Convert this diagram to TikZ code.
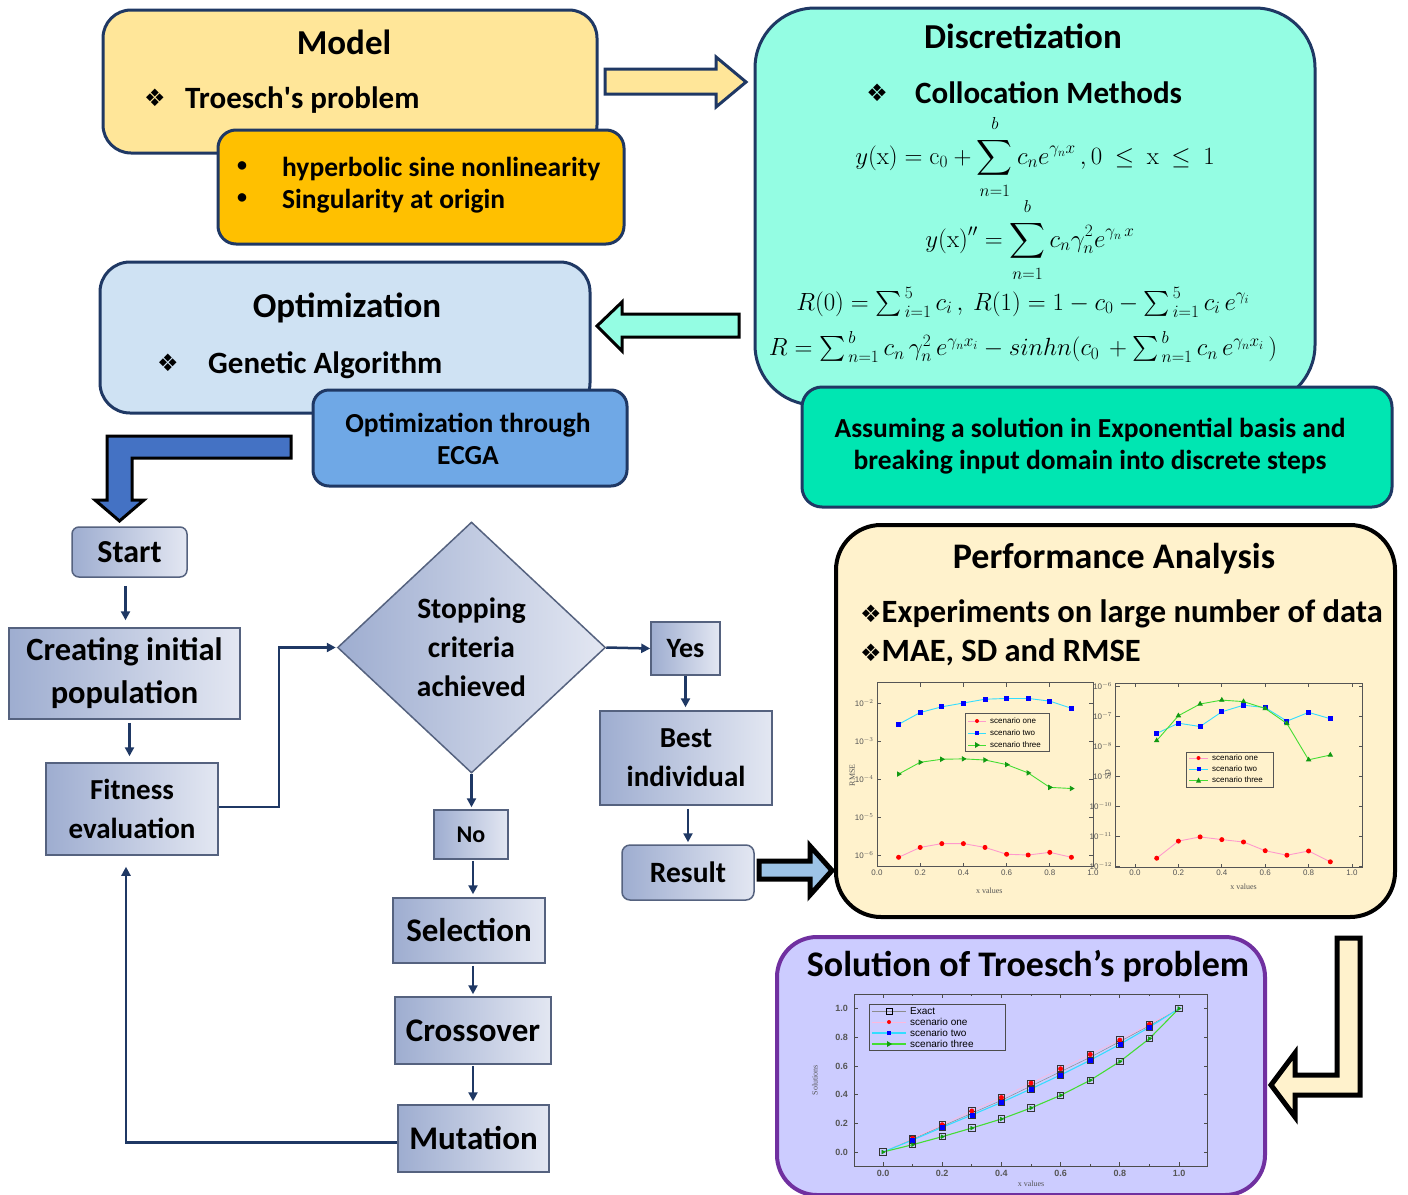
\documentclass[tikz,border=0pt]{standalone}
\usepackage{exscale}
\usepackage[no-math]{fontspec}
\setmainfont{Carlito}
\newfontfamily\dejavu{DejaVu Sans}
\newfontfamily\plotfont{Liberation Sans}
\newfontfamily\plotserif{Liberation Serif}
\usetikzlibrary{shapes.geometric,arrows.meta,calc,plotmarks}
\newcommand\myfs[2]{\fontsize{#1}{#2}\selectfont}
\newcommand\upl[1]{\raisebox{4pt}{$\scriptstyle #1$}}
\newcommand\lol[1]{\raisebox{-4pt}{$\scriptstyle #1$}}
\definecolor{navy}{HTML}{1F3864}
\definecolor{modelY}{HTML}{FFE699}
\definecolor{orangeF}{HTML}{FFC000}
\definecolor{aquaF}{HTML}{94FDE3}
\definecolor{greenF}{HTML}{00E6B2}
\definecolor{optF}{HTML}{CFE2F3}
\definecolor{ecgaF}{HTML}{6FA8E6}
\definecolor{blueArr}{HTML}{4472C4}
\definecolor{perfF}{HTML}{FFF2CC}
\definecolor{solF}{HTML}{CCCCFF}
\definecolor{purp}{HTML}{7030A0}
\definecolor{fcL}{HTML}{9EADD0}
\definecolor{fcR}{HTML}{E3E7F2}
\definecolor{fcB}{HTML}{55627F}
\definecolor{resArr}{HTML}{9DC3E6}
\definecolor{axc}{HTML}{555555}
\definecolor{pinkL}{HTML}{FF99CC}
\definecolor{cyanL}{HTML}{33DDFF}
\definecolor{greenL}{HTML}{44DD33}
\definecolor{greenM}{HTML}{119911}
\begin{document}
\begin{tikzpicture}[x=1pt,y=-1pt,
  bigbox/.style={draw=navy,line width=3pt,inner sep=0pt},
  fc/.style={draw=fcB,line width=1.5pt,left color=fcL,right color=fcR,inner sep=0pt,align=center,font=\bfseries\myfs{30}{38}},
  farr/.style={draw=navy,line width=2.5pt,-{Triangle[length=9pt,width=9pt]}},
  blk/.style={line width=3pt,line join=miter},
  ttl/.style={font=\bfseries\myfs{35}{35},anchor=base,inner sep=0pt},
  itm/.style={font=\bfseries\myfs{31}{31},anchor=base west,inner sep=0pt},
  sml/.style={font=\bfseries\myfs{27.5}{27.5},anchor=base,inner sep=0pt},
  dia/.style={font=\dejavu\myfs{24}{24},anchor=center,inner sep=0pt},
  mth/.style={font=\myfs{25}{25},inner sep=0pt},
  tick/.style={font=\plotfont\myfs{8}{8},text=axc,inner sep=1pt},
  lab/.style={font=\plotserif\myfs{8}{8},text=axc,inner sep=1pt},
  leg/.style={font=\plotfont\myfs{8}{8},text=black,inner sep=0pt,anchor=west},
  frm/.style={draw=axc,line width=0.8pt}
]
\useasboundingbox (0,0) rectangle (1408,1194);
\fill[white] (0,0) rectangle (1408,1194);

% ---------- Model ----------
\node[bigbox,fill=modelY,minimum width=494pt,minimum height=143pt,rounded corners=28pt] (model) at (350,81.5) {};
\node[ttl] (modelT) at (344,54) {Model};
\node[dia] (modelD) at (155,98) {❖};
\node[itm] (modelI) at (185,108) {Troesch\textquotesingle s problem};
\node[bigbox,fill=orangeF,minimum width=406pt,minimum height=114pt,rounded corners=18pt] (orng) at (421,187) {};
\node[font=\bfseries\myfs{20}{20},inner sep=0pt] (b1) at (242,167) {•};
\node[font=\bfseries\myfs{20}{20},inner sep=0pt] (b2) at (242,199) {•};
\node[font=\bfseries\myfs{27.5}{27.5},anchor=base west,inner sep=0pt] (o1) at (282,176) {hyperbolic sine nonlinearity};
\node[font=\bfseries\myfs{27.5}{27.5},anchor=base west,inner sep=0pt] (o2) at (282,208) {Singularity at origin};

% ---------- Discretization ----------
\node[bigbox,fill=aquaF,minimum width=560pt,minimum height=397pt,rounded corners=60pt] (disc) at (1035,206.5) {};
\node[ttl] (discT) at (1023,48) {Discretization};
\node[dia] (discD) at (877,93) {❖};
\node[itm] (discI) at (915,103) {Collocation Methods};
\node[mth] (f1) at (1035,157) {$\displaystyle y(\mathrm{x}) = \mathrm{c}_0 + \mathop{\sum}\limits_{\lol{n=1}}^{\upl{b}} c_n e^{\gamma_n x}\,, 0\ \le\ \mathrm{x}\ \le\ 1$};
\node[mth] (f2) at (1030,240) {$\displaystyle y(\mathrm{x})'' = \mathop{\sum}\limits_{\lol{n=1}}^{\upl{b}} c_n \gamma_n^2 e^{\gamma_n\, x}$};
\node[mth] (f3) at (1023,302) {$R(0) = \sum_{\,i=1}^{\,5} c_i\,,\ R(1) = 1 - c_0 - \sum_{\,i=1}^{\,5} c_i\, e^{\gamma_i}$};
\node[mth] (f4) at (1023,347) {$R = \sum_{\,n=1}^{\,b} c_n\, \gamma_n^2\, e^{\gamma_n x_i} - sinhn(c_0\, + \sum_{\,n=1}^{\,b} c_n\, e^{\gamma_n x_i}\,)$};
\node[bigbox,fill=greenF,minimum width=590pt,minimum height=120pt,rounded corners=20pt] (grn) at (1097,447) {};
\node[sml] (g1) at (1090,437) {Assuming a solution in Exponential basis and};
\node[sml] (g2) at (1090,469) {breaking input domain into discrete steps};

% ---------- Optimization ----------
\node[bigbox,fill=optF,minimum width=490pt,minimum height=151pt,rounded corners=30pt] (opt) at (345,337.5) {};
\node[ttl] (optT) at (347,317) {Optimization};
\node[dia] (optD) at (168,363) {❖};
\node[itm] (optI) at (208,373) {Genetic Algorithm};
\node[bigbox,fill=ecgaF,minimum width=314pt,minimum height=96pt,rounded corners=16pt] (ecga) at (470,438) {};
\node[sml] (e1) at (468,432) {Optimization through};
\node[sml] (e2) at (468,464) {ECGA};

% ---------- block arrows (top) ----------
\draw[blk,draw=navy,fill=modelY] (605,69) -- (716,69) -- (716,57) -- (746,82) -- (716,107) -- (716,94) -- (605,94) -- cycle;
\draw[blk,draw=black,fill=aquaF] (739,314) -- (622,314) -- (622,302) -- (597,326) -- (622,351) -- (622,337) -- (739,337) -- cycle;
\draw[blk,draw=black,fill=blueArr] (107,436) -- (291,436) -- (291,458) -- (132,458) -- (132,500) -- (144,500) -- (119.5,521) -- (95,500) -- (107,500) -- cycle;

% ---------- flowchart ----------
\node[fc,rounded corners=7pt,minimum width=115pt,minimum height=50pt,font=\bfseries\myfs{32}{34}] (start) at (129.5,552) {Start};
\node[fc,minimum width=231pt,minimum height=91pt,font=\bfseries\myfs{32.5}{43}] (create) at (124.5,673.5) {Creating initial\\population};
\node[fc,minimum width=172pt,minimum height=92pt,font=\bfseries\myfs{29}{39}] (fit) at (132,809) {Fitness\\evaluation};
\node[fc,diamond,minimum width=268pt,minimum height=251pt,font=\bfseries\myfs{29.5}{39}] (dmd) at (471.5,647.5) {Stopping\\criteria\\achieved};
\node[fc,minimum width=69pt,minimum height=53pt,font=\bfseries\myfs{28}{30}] (yes) at (685.5,648.5) {Yes};
\node[fc,minimum width=172pt,minimum height=94pt,font=\bfseries\myfs{29}{39}] (best) at (686,758) {Best\\individual};
\node[fc,rounded corners=8pt,minimum width=132pt,minimum height=55pt,font=\bfseries\myfs{29.5}{30}] (res) at (688,872.5) {Result};
\node[fc,minimum width=74pt,minimum height=49pt,font=\bfseries\myfs{24}{26}] (no) at (471,834.5) {No};
\node[fc,minimum width=152pt,minimum height=65pt,font=\bfseries\myfs{33}{34}] (sel) at (469,930.5) {Selection};
\node[fc,minimum width=156pt,minimum height=67pt,font=\bfseries\myfs{33}{34}] (cro) at (473,1030.5) {Crossover};
\node[fc,minimum width=151pt,minimum height=67pt,font=\bfseries\myfs{33}{34}] (mut) at (473.5,1138.5) {Mutation};

\draw[farr,shorten <=8pt,shorten >=7pt] ([xshift=-4pt]start.south) -- ([xshift=-4pt]start.south |- create.north);
\draw[farr,shorten <=3pt,shorten >=6pt] ([xshift=5pt]create.south) -- ([xshift=5pt]create.south |- fit.north);
\draw[farr,shorten >=1pt] ([yshift=2pt]fit.east) -- ++(60,0) |- (dmd.west);
\draw[farr,shorten >=0pt] (dmd.east) -- (yes.west);
\draw[farr,shorten >=3pt] (yes.south) -- (yes.south |- best.north);
\draw[farr,shorten <=3pt,shorten >=2pt] ([xshift=2pt]best.south) -- ([xshift=2pt]best.south |- res.north);
\draw[farr,shorten >=2pt] (dmd.south) -- (dmd.south |- no.north);
\draw[farr,shorten <=1pt,shorten >=3pt] ([xshift=2pt]no.south) -- ([xshift=2pt]no.south |- sel.north);
\draw[farr,shorten <=2pt,shorten >=2pt] ([xshift=4pt]sel.south) -- ([xshift=4pt]sel.south |- cro.north);
\draw[farr,shorten <=1pt,shorten >=3pt] (cro.south) -- (cro.south |- mut.north);
\draw[farr] ([yshift=-4pt]mut.west) -| ([xshift=-6pt,yshift=-11pt]fit.south);

% ---------- Performance Analysis ----------
\node[draw=black,line width=4pt,fill=perfF,inner sep=0pt,minimum width=559pt,minimum height=392pt,rounded corners=45pt] (perf) at (1115.5,721) {};
\node[font=\bfseries\myfs{36}{36},anchor=base,inner sep=0pt] (perfT) at (1114,568) {Performance Analysis};
\node[font=\bfseries\myfs{32.5}{32.5},anchor=base west,inner sep=0pt] (p1) at (860,622) {{\dejavu\myfs{24}{24}❖}Experiments on large number of data};
\node[font=\bfseries\myfs{32.5}{32.5},anchor=base west,inner sep=0pt] (p2) at (860,661) {{\dejavu\myfs{24}{24}❖}MAE, SD and RMSE};

% left plot (RMSE)
\begin{scope}[shift={(877,703)},x=216pt,y=38pt]
  \draw[frm] (0,0.53) rectangle (1,-4.3);
  \foreach \t in {0,0.2,0.4,0.6,0.8,1}{\draw[frm] (\t,-4.3) -- ++(0,0.1); \draw[frm] (\t,0.53) -- ++(0,-0.1);}
  \foreach \d in {0,-1,-2,-3,-4}{\draw[frm] (0,\d) -- ++(0.02,0); \draw[frm] (1,\d) -- ++(-0.02,0);}
  \foreach \t/\l [count=\i] in {0/0.0,0.2/0.2,0.4/0.4,0.6/0.6,0.8/0.8,1/1.0}{\node[tick,anchor=north] (la\i) at (\t,-4.35) {\l};}
  \foreach \d/\e [count=\i] in {0/-2,-1/-3,-2/-4,-3/-5,-4/-6}{\node[tick,anchor=east] (ma\i) at (-0.01,\d) {10$^{\e}$};}
  \node[lab,rotate=90] (rmse) at (-0.115,-1.9) {RMSE};
  \node[lab] (xva) at (0.52,-4.95) {x values};
  \draw[pinkL,line width=0.9pt] plot[mark=*,mark size=2pt,mark options={draw=red,fill=red}] coordinates {(0.1,-4.06)(0.2,-3.8)(0.3,-3.7)(0.4,-3.7)(0.5,-3.8)(0.6,-3.98)(0.7,-4.0)(0.8,-3.93)(0.9,-4.06)};
  \draw[cyanL,line width=0.9pt] plot[mark=square*,mark size=2pt,mark options={draw=blue,fill=blue}] coordinates {(0.1,-0.56)(0.2,-0.25)(0.3,-0.1)(0.4,0)(0.5,0.1)(0.6,0.12)(0.7,0.12)(0.8,0.05)(0.9,-0.14)};
  \draw[greenL,line width=0.9pt] plot[mark=triangle*,mark size=2.3pt,mark options={draw=greenM,fill=greenM,rotate=-90}] coordinates {(0.1,-1.87)(0.2,-1.56)(0.3,-1.48)(0.4,-1.47)(0.5,-1.5)(0.6,-1.62)(0.7,-1.84)(0.8,-2.22)(0.9,-2.25)};
\end{scope}
\draw[draw=axc,line width=0.6pt,fill=perfF] (965,713) rectangle (1049,751);
\draw[pinkL,line width=0.9pt] (968,721) -- (986,721); \fill[red] (977,721) circle (2pt);
\draw[cyanL,line width=0.9pt] (968,733) -- (986,733); \fill[blue] (975,731) rectangle (979,735);
\draw[greenL,line width=0.9pt] (968,745) -- (986,745); \fill[greenM] (975,742) -- (980,745) -- (975,748) -- cycle;
\node[leg] (lga1) at (990,721) {scenario one};
\node[leg] (lga2) at (990,733) {scenario two};
\node[leg] (lga3) at (990,745) {scenario three};

% right plot (SD)
\begin{scope}[shift={(1135,686)},x=217pt,y=30pt]
  \draw[frm] (-0.09,0.1) rectangle (1.05,-6.05);
  \foreach \t in {0,0.2,0.4,0.6,0.8,1}{\draw[frm] (\t,-6.05) -- ++(0,0.13); \draw[frm] (\t,0.1) -- ++(0,-0.13);}
  \foreach \d in {0,-1,-2,-3,-4,-5,-6}{\draw[frm] (-0.09,\d) -- ++(0.02,0); \draw[frm] (1.05,\d) -- ++(-0.02,0);}
  \foreach \t/\l [count=\i] in {0/0.0,0.2/0.2,0.4/0.4,0.6/0.6,0.8/0.8,1/1.0}{\node[tick,anchor=north] (lb\i) at (\t,-6.1) {\l};}
  \foreach \d/\e [count=\i] in {0/-6,-1/-7,-2/-8,-3/-9,-4/-10,-5/-11,-6/-12}{\node[tick,anchor=east] (mb\i) at (-0.1,\d) {10$^{\e}$};}
  \node[lab,rotate=90] (sdl) at (-0.125,-2.95) {SD};
  \node[lab] (xvb) at (0.5,-6.7) {x values};
  \draw[pinkL,line width=0.9pt] plot[mark=*,mark size=2pt,mark options={draw=red,fill=red}] coordinates {(0.1,-5.74)(0.2,-5.17)(0.3,-5.03)(0.4,-5.12)(0.5,-5.2)(0.6,-5.49)(0.7,-5.64)(0.8,-5.5)(0.9,-5.86)};
  \draw[cyanL,line width=0.9pt] plot[mark=square*,mark size=2pt,mark options={draw=blue,fill=blue}] coordinates {(0.1,-1.58)(0.2,-1.24)(0.3,-1.35)(0.4,-0.86)(0.5,-0.64)(0.6,-0.72)(0.7,-1.17)(0.8,-0.88)(0.9,-1.09)};
  \draw[greenL,line width=0.9pt] plot[mark=triangle*,mark size=2.3pt,mark options={draw=greenM,fill=greenM}] coordinates {(0.1,-1.82)(0.2,-0.99)(0.3,-0.6)(0.4,-0.47)(0.5,-0.52)(0.6,-0.75)(0.7,-1.25)(0.8,-2.46)(0.9,-2.3)};
\end{scope}
\draw[draw=axc,line width=0.6pt,fill=perfF] (1186,752) rectangle (1273,787);
\draw[pinkL,line width=0.9pt] (1189,758) -- (1208,758); \fill[red] (1198.5,758) circle (2pt);
\draw[cyanL,line width=0.9pt] (1189,769) -- (1208,769); \fill[blue] (1196.5,767) rectangle (1200.5,771);
\draw[greenL,line width=0.9pt] (1189,780) -- (1208,780); \fill[greenM] (1196,782.5) -- (1198.5,777.5) -- (1201,782.5) -- cycle;
\node[leg] (lgb1) at (1212,758) {scenario one};
\node[leg] (lgb2) at (1212,769) {scenario two};
\node[leg] (lgb3) at (1212,780) {scenario three};

% result -> performance arrow
\draw[line width=5pt,line join=miter,draw=black,fill=resArr] (759,861) -- (810,861) -- (810,846) -- (832,870.5) -- (810,895) -- (810,879) -- (759,879) -- cycle;

% ---------- Solution ----------
\node[draw=purp,line width=4pt,fill=solF,inner sep=0pt,minimum width=488pt,minimum height=258pt,rounded corners=40pt] (sol) at (1021,1066) {};
\node[font=\bfseries\myfs{36}{36},anchor=base,inner sep=0pt] (solT) at (1028,976) {Solution of Troesch’s problem};
\begin{scope}[shift={(883,1152)},x=296pt,y=143.5pt]
  \draw[frm,draw=black!70] (-0.095,-0.098) rectangle (1.095,1.1);
  \foreach \t in {0,0.2,0.4,0.6,0.8,1}{\draw[frm,draw=black!70] (\t,-0.098) -- ++(0,0.025); \draw[frm,draw=black!70] (\t,1.1) -- ++(0,-0.025);}
  \foreach \t in {0.1,0.3,0.5,0.7,0.9}{\draw[frm,draw=black!70] (\t,-0.098) -- ++(0,0.014); \draw[frm,draw=black!70] (\t,1.1) -- ++(0,-0.014);}
  \foreach \t in {0,0.2,0.4,0.6,0.8,1}{\draw[frm,draw=black!70] (-0.095,\t) -- ++(0.012,0); \draw[frm,draw=black!70] (1.095,\t) -- ++(-0.012,0);}
  \foreach \t/\l [count=\i] in {0/0.0,0.2/0.2,0.4/0.4,0.6/0.6,0.8/0.8,1/1.0}{\node[tick,anchor=north,font=\plotfont\bfseries\myfs{9}{9}] (lc\i) at (\t,-0.12) {\l};}
  \foreach \t/\l [count=\i] in {0/0.0,0.2/0.2,0.4/0.4,0.6/0.6,0.8/0.8,1/1.0}{\node[tick,anchor=east,font=\plotfont\bfseries\myfs{9}{9}] (mc\i) at (-0.115,\t) {\l};}
  \node[lab,rotate=90] (soll) at (-0.23,0.5) {Solutions};
  \node[lab] (xvc) at (0.5,-0.22) {x values};
  \draw[black!45,line width=0.5pt] plot coordinates {(0,0)(0.1,0.09)(0.2,0.18)(0.3,0.27)(0.4,0.36)(0.5,0.46)(0.6,0.56)(0.7,0.66)(0.8,0.77)(0.9,0.88)(1,1)};
  \draw[pinkL!70!white,line width=0.6pt] plot coordinates {(0,0)(0.1,0.095)(0.2,0.19)(0.3,0.286)(0.4,0.38)(0.5,0.48)(0.6,0.58)(0.7,0.68)(0.8,0.78)(0.9,0.89)(1,1)};
  \draw[cyanL,line width=1.1pt] plot coordinates {(0,0)(0.1,0.084)(0.2,0.172)(0.3,0.258)(0.4,0.346)(0.5,0.44)(0.6,0.537)(0.7,0.64)(0.8,0.75)(0.9,0.87)(1,1)};
  \draw[greenL,line width=1.1pt] plot coordinates {(0,0)(0.1,0.051)(0.2,0.107)(0.3,0.167)(0.4,0.23)(0.5,0.307)(0.6,0.395)(0.7,0.5)(0.8,0.63)(0.9,0.79)(1,1)};
  \draw plot[only marks,mark=square,mark size=3.2pt,mark options={draw=black!80,line width=0.8pt}] coordinates {(0,0)(0.1,0.095)(0.2,0.19)(0.3,0.286)(0.4,0.38)(0.5,0.48)(0.6,0.58)(0.7,0.68)(0.8,0.78)(0.9,0.89)(1,1)(0.1,0.084)(0.2,0.172)(0.3,0.258)(0.4,0.346)(0.5,0.44)(0.6,0.537)(0.7,0.64)(0.8,0.75)(0.9,0.87)(0.1,0.051)(0.2,0.107)(0.3,0.167)(0.4,0.23)(0.5,0.307)(0.6,0.395)(0.7,0.5)(0.8,0.63)(0.9,0.79)};
  \draw plot[only marks,mark=*,mark size=2.2pt,mark options={draw=red,fill=red}] coordinates {(0.1,0.095)(0.2,0.19)(0.3,0.286)(0.4,0.38)(0.5,0.48)(0.6,0.58)(0.7,0.68)(0.8,0.78)(0.9,0.89)};
  \draw plot[only marks,mark=square*,mark size=2pt,mark options={draw=blue,fill=blue}] coordinates {(0.1,0.084)(0.2,0.172)(0.3,0.258)(0.4,0.346)(0.5,0.44)(0.6,0.537)(0.7,0.64)(0.8,0.75)(0.9,0.87)};
  \draw plot[only marks,mark=triangle*,mark size=2.2pt,mark options={draw=greenM,fill=greenM,rotate=-90}] coordinates {(0,0)(0.1,0.051)(0.2,0.107)(0.3,0.167)(0.4,0.23)(0.5,0.307)(0.6,0.395)(0.7,0.5)(0.8,0.63)(0.9,0.79)(1,1)};
\end{scope}
\draw[draw=black!70,line width=0.6pt,fill=solF] (869,1004) rectangle (1005,1050);
\draw[black!45,line width=0.6pt] (872,1011) -- (906,1011); \draw[black,line width=0.8pt] (886,1008) rectangle (892,1014);
\draw[pinkL!70!white,line width=0.6pt] (872,1022) -- (906,1022); \fill[red] (889,1022) circle (2pt);
\draw[cyanL,line width=1.1pt] (872,1033) -- (906,1033); \fill[blue] (887,1031) rectangle (891,1035);
\draw[greenL,line width=1.1pt] (872,1044) -- (906,1044); \fill[greenM] (887,1041) -- (892,1044) -- (887,1047) -- cycle;
\node[leg,font=\plotfont\myfs{10}{10}] (lgc1) at (910,1011) {Exact};
\node[leg,font=\plotfont\myfs{10}{10}] (lgc2) at (910,1022) {scenario one};
\node[leg,font=\plotfont\myfs{10}{10}] (lgc3) at (910,1033) {scenario two};
\node[leg,font=\plotfont\myfs{10}{10}] (lgc4) at (910,1044) {scenario three};

% cream bent arrow
\draw[line width=5pt,line join=miter,draw=black,fill=perfF] (1337,938) -- (1360,938) -- (1360,1095) -- (1295,1095) -- (1295,1117) -- (1271,1085) -- (1295,1053) -- (1295,1075) -- (1337,1075) -- cycle;
\end{tikzpicture}
\end{document}
